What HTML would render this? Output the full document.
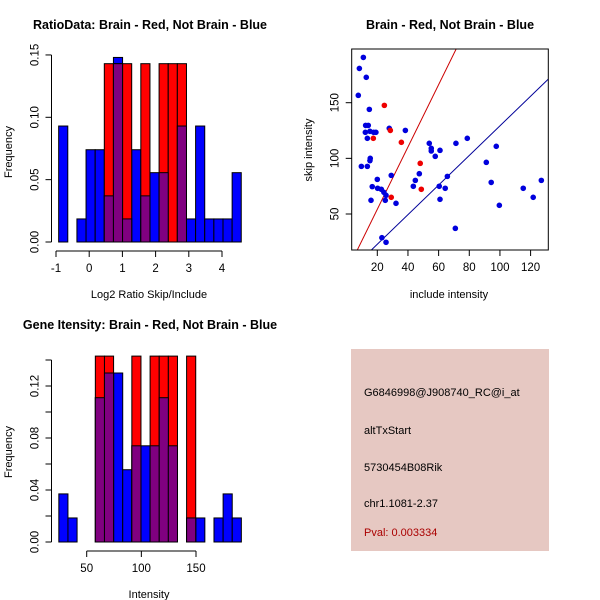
<!DOCTYPE html>
<html><head><meta charset="utf-8"><style>
body{margin:0;background:#fff}
svg{display:block;font-family:"Liberation Sans",sans-serif}
</style></head><body>
<svg id="c" width="600" height="600" viewBox="0 0 600 600"></svg>
<script>
// Ratio histogram
const ratioBreakStart = -0.92, ratioBinWidth = 0.275;
const ratioBlue = [0.093,0,0.0185,0.074,0.074,0.037,0.148,0.0185,0.074,0.037,0.0556,0.0556,0,0.093,0.0185,0.093,0.0185,0.0185,0.0185,0.0556];
const ratioRed  = [0,0,0,0,0,0.143,0.143,0.143,0,0.143,0,0.143,0.143,0.143,0,0,0,0,0,0];
const ratioXTicks = [-1,0,1,2,3,4];
const ratioYTicks = [0,0.05,0.10,0.15];
const ratioYLabels = ["0.00","0.05","0.10","0.15"];
// Intensity histogram
const intBreakStart = 24.5, intBinWidth = 8.35;
const intBlue = [0.037,0.0185,0,0,0.111,0.13,0.13,0.0556,0.074,0.074,0.074,0.111,0.074,0,0.0185,0.0185,0,0.0185,0.037,0.0185];
const intRed  = [0,0,0,0,0.143,0.143,0,0,0.143,0,0.143,0.143,0.143,0,0.143,0,0,0,0,0];
const intXTicks = [50,100,150];
const intYTicks = [0,0.02,0.04,0.06,0.08,0.10,0.12,0.14];
const intYLabels = ["0.00","","0.04","","0.08","","0.12",""];
// Scatter
const blueInc = [10.9,8.3,12.8,7.6,14.8,12.4,14.1,12.2,15.2,17.6,19.1,13.5,27.8,38.3,15.4,15.2,9.6,13.5,20,16.7,20.2,22.6,24.3,25.7,15.9,25.2,29.1,32.2,23,25.7,53.9,55.2,55.2,57.8,60.9,71.3,78.7,47.4,44.8,43.5,65.7,60.4,64.3,60.9,70.9,91.1,97.6,94.3,99.6,115.2,121.7,127];
const blueSkip = [190.7,180.8,172.8,156.6,144,129.6,129.6,123.4,124.3,123.4,123.4,118,127,125.1,100,97.9,92.8,92.8,81.1,74.6,73.1,72.2,69.5,66.8,62.3,62.3,84.7,59.6,28.7,24.6,113.5,109,106.6,101.8,107.2,113.5,118,86.2,80.2,74.9,83.8,74.9,73.1,63.2,37.1,96.4,110.8,78.4,57.8,73.1,65,80.2];
const redInc = [24.6,17.4,28.5,35.7,48,48.7,29.1];
const redSkip = [147.6,118,125.1,114.4,95.5,72.2,65];
const redLine = [-1.8, 2.80];   // intercept, slope
const blueLine = [-3.8, 1.33];
const scXTicks = [20,40,60,80,100,120];
const scYTicks = [50,100,150];

const S = document.getElementById('c');
const NS = 'http://www.w3.org/2000/svg';
function mk(tag, attrs, parent){const e=document.createElementNS(NS,tag);for(const k in attrs)e.setAttribute(k,attrs[k]);(parent||S).appendChild(e);return e;}
function txt(x,y,s,size,extra){const t=mk('text',Object.assign({x:x,y:y,'font-size':size,'text-anchor':'middle',fill:'#000'},extra||{}));t.textContent=s;return t;}

function hist(cfg){
  const g=mk('g',{});
  
  
  const X=v=>cfg.x0+(v-cfg.xv0)*cfg.xs, Y=v=>cfg.y0-v*cfg.ys;
  function bars(vals,color,nm){
    vals.forEach((v,i)=>{ if(v<=0) return;
      const a=X(cfg.start+i*cfg.w), b=X(cfg.start+(i+1)*cfg.w);
      const r=mk('rect',{x:a,y:Y(v),width:b-a,height:Y(0)-Y(v),fill:color,stroke:'#000','stroke-width':1},g);
      
      
    });
  }
  bars(cfg.blue,'#0000ff','blue');
  bars(cfg.red,'#ff0000','red');
  bars(cfg.blue.map((v,i)=>Math.min(v,cfg.red[i])),'#800080','overlap');
  const xa=mk('g',{},g);
  
  
  const xt=cfg.xticks;
  mk('line',{x1:X(xt[0]),x2:X(xt[xt.length-1]),y1:cfg.xaxY,y2:cfg.xaxY,stroke:'#000'},xa);
  xt.forEach(t=>{mk('line',{x1:X(t),x2:X(t),y1:cfg.xaxY,y2:cfg.xaxY+6,stroke:'#000'},xa);
    txt(X(t),cfg.xaxY+21,String(t),11.5);});
  const ya=mk('g',{},g);
  
  
  const yt=cfg.yticks;
  mk('line',{x1:cfg.yaxX,x2:cfg.yaxX,y1:Y(yt[0]),y2:Y(yt[yt.length-1]),stroke:'#000'},ya);
  yt.forEach((t,i)=>{mk('line',{x1:cfg.yaxX-6,x2:cfg.yaxX,y1:Y(t),y2:Y(t),stroke:'#000'},ya);
    if(cfg.ylabels[i]){const l=txt(0,0,cfg.ylabels[i],11.5,{transform:`translate(${cfg.yaxX-13},${Y(t)}) rotate(-90)`});}});
  txt(149,cfg.xaxY+47,cfg.xlab,11);
  txt(0,0,'Frequency',11,{transform:`translate(12,${cfg.y0-90}) rotate(-90)`});
  const ti=txt(150,cfg.titleY,cfg.title,12.5,{'font-weight':'bold'});
  
}
hist({name:'ratio-histogram',x0:56,xv0:-1,xv1:4,xs:33.2,y0:242,ys:1247,start:ratioBreakStart,w:ratioBinWidth,
  blue:ratioBlue,red:ratioRed,xticks:ratioXTicks,yticks:ratioYTicks,ylabels:ratioYLabels,xaxY:251,yaxX:51.5,
  xlab:'Log2 Ratio Skip/Include',title:'RatioData: Brain - Red, Not Brain - Blue',titleY:29});
hist({name:'intensity-histogram',x0:86.7,xv0:50,xv1:150,xs:1.093,y0:542,ys:1300,start:intBreakStart,w:intBinWidth,
  blue:intBlue,red:intRed,xticks:intXTicks,yticks:intYTicks,ylabels:intYLabels,xaxY:551,yaxX:51.5,
  xlab:'Intensity',title:'Gene Itensity: Brain - Red, Not Brain - Blue',titleY:329});

// Scatter
(function(){
  const g=mk('g',{});
  
  
  const L=351.7,R=548.3,T=49,B=250;
  const X=v=>377.3+(v-20)*1.533, Y=v=>214-(v-50)*1.113;
  const xmin=(L-377.3)/1.533+20, xmax=(R-377.3)/1.533+20;
  const cp=mk('clipPath',{id:'sc'},g); mk('rect',{x:L,y:T,width:R-L,height:B-T},cp);
  function line(p,color,nm){const l=mk('line',{x1:X(xmin),y1:Y(p[0]+p[1]*xmin),x2:X(xmax),y2:Y(p[0]+p[1]*xmax),stroke:color,'stroke-width':1,'clip-path':'url(#sc)'},g);
    }
  line(redLine,'#cc0000','red-fit-line');
  line(blueLine,'#000099','blue-fit-line');
  blueInc.forEach((v,i)=>{const c=mk('circle',{cx:X(v),cy:Y(blueSkip[i]),r:2.8,fill:'#0000dd'},g);
    });
  redInc.forEach((v,i)=>{const c=mk('circle',{cx:X(v),cy:Y(redSkip[i]),r:2.8,fill:'#ee0000'},g);
    });
  const box=mk('rect',{x:L,y:T,width:R-L,height:B-T,fill:'none',stroke:'#000'},g);
  
  scXTicks.forEach(t=>{mk('line',{x1:X(t),x2:X(t),y1:B,y2:B+6,stroke:'#000'},g);
    txt(X(t),B+21,String(t),11.5);});
  scYTicks.forEach(t=>{mk('line',{x1:L-6,x2:L,y1:Y(t),y2:Y(t),stroke:'#000'},g);
    txt(0,0,String(t),11.5,{transform:`translate(${L-13},${Y(t)}) rotate(-90)`});});
  txt(449,298,'include intensity',11);
  txt(0,0,'skip intensity',11,{transform:'translate(312,150) rotate(-90)'});
  txt(450,29,'Brain - Red, Not Brain - Blue',12.5,{'font-weight':'bold'});
})();

// Info box
(function(){
  const g=mk('g',{});
  
  
  mk('rect',{x:351,y:349,width:198,height:202,fill:'#e6c8c2'},g);
  const lines=[['G6846998@J908740_RC@i_at',396,'#000'],['altTxStart',434,'#000'],['5730454B08Rik',471,'#000'],['chr1.1081-2.37',507,'#000'],['Pval: 0.003334',536,'#aa0000']];
  lines.forEach(l=>{const t=txt(364,l[1],l[0],11,{'text-anchor':'start',fill:l[2]});
    });
})();
</script>
</body></html>
